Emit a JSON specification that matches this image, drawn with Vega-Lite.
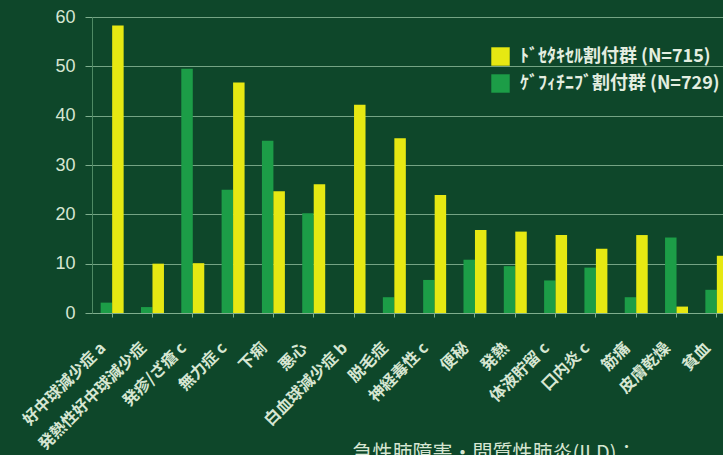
{
  "$schema": "https://vega.github.io/schema/vega-lite/v6.json",
  "width": 631,
  "height": 296,
  "autosize": {"type": "none"},
  "padding": {"left": 92, "top": 17, "right": 0, "bottom": 142},
  "background": "#0e472a",
  "config": {
    "view": {"stroke": null},
    "font": "Noto Sans CJK JP"
  },
  "data": {
    "values": [
      {"cat": "好中球減少症 a", "group": "ｹﾞﾌｨﾁﾆﾌﾞ割付群 (N=729)", "pct": 2.1},
      {"cat": "好中球減少症 a", "group": "ﾄﾞｾﾀｷｾﾙ割付群 (N=715)", "pct": 58.3},
      {"cat": "発熱性好中球減少症", "group": "ｹﾞﾌｨﾁﾆﾌﾞ割付群 (N=729)", "pct": 1.2},
      {"cat": "発熱性好中球減少症", "group": "ﾄﾞｾﾀｷｾﾙ割付群 (N=715)", "pct": 10.0},
      {"cat": "発疹/ざ瘡 c", "group": "ｹﾞﾌｨﾁﾆﾌﾞ割付群 (N=729)", "pct": 49.5},
      {"cat": "発疹/ざ瘡 c", "group": "ﾄﾞｾﾀｷｾﾙ割付群 (N=715)", "pct": 10.1},
      {"cat": "無力症 c", "group": "ｹﾞﾌｨﾁﾆﾌﾞ割付群 (N=729)", "pct": 25.0},
      {"cat": "無力症 c", "group": "ﾄﾞｾﾀｷｾﾙ割付群 (N=715)", "pct": 46.7},
      {"cat": "下痢", "group": "ｹﾞﾌｨﾁﾆﾌﾞ割付群 (N=729)", "pct": 34.9},
      {"cat": "下痢", "group": "ﾄﾞｾﾀｷｾﾙ割付群 (N=715)", "pct": 24.7},
      {"cat": "悪心", "group": "ｹﾞﾌｨﾁﾆﾌﾞ割付群 (N=729)", "pct": 20.2},
      {"cat": "悪心", "group": "ﾄﾞｾﾀｷｾﾙ割付群 (N=715)", "pct": 26.1},
      {"cat": "白血球減少症 b", "group": "ｹﾞﾌｨﾁﾆﾌﾞ割付群 (N=729)", "pct": 0},
      {"cat": "白血球減少症 b", "group": "ﾄﾞｾﾀｷｾﾙ割付群 (N=715)", "pct": 42.2},
      {"cat": "脱毛症", "group": "ｹﾞﾌｨﾁﾆﾌﾞ割付群 (N=729)", "pct": 3.2},
      {"cat": "脱毛症", "group": "ﾄﾞｾﾀｷｾﾙ割付群 (N=715)", "pct": 35.4},
      {"cat": "神経毒性 c", "group": "ｹﾞﾌｨﾁﾆﾌﾞ割付群 (N=729)", "pct": 6.7},
      {"cat": "神経毒性 c", "group": "ﾄﾞｾﾀｷｾﾙ割付群 (N=715)", "pct": 23.9},
      {"cat": "便秘", "group": "ｹﾞﾌｨﾁﾆﾌﾞ割付群 (N=729)", "pct": 10.8},
      {"cat": "便秘", "group": "ﾄﾞｾﾀｷｾﾙ割付群 (N=715)", "pct": 16.8},
      {"cat": "発熱", "group": "ｹﾞﾌｨﾁﾆﾌﾞ割付群 (N=729)", "pct": 9.5},
      {"cat": "発熱", "group": "ﾄﾞｾﾀｷｾﾙ割付群 (N=715)", "pct": 16.5},
      {"cat": "体液貯留 c", "group": "ｹﾞﾌｨﾁﾆﾌﾞ割付群 (N=729)", "pct": 6.6},
      {"cat": "体液貯留 c", "group": "ﾄﾞｾﾀｷｾﾙ割付群 (N=715)", "pct": 15.8},
      {"cat": "口内炎 c", "group": "ｹﾞﾌｨﾁﾆﾌﾞ割付群 (N=729)", "pct": 9.2},
      {"cat": "口内炎 c", "group": "ﾄﾞｾﾀｷｾﾙ割付群 (N=715)", "pct": 13.0},
      {"cat": "筋痛", "group": "ｹﾞﾌｨﾁﾆﾌﾞ割付群 (N=729)", "pct": 3.2},
      {"cat": "筋痛", "group": "ﾄﾞｾﾀｷｾﾙ割付群 (N=715)", "pct": 15.8},
      {"cat": "皮膚乾燥", "group": "ｹﾞﾌｨﾁﾆﾌﾞ割付群 (N=729)", "pct": 15.3},
      {"cat": "皮膚乾燥", "group": "ﾄﾞｾﾀｷｾﾙ割付群 (N=715)", "pct": 1.3},
      {"cat": "貧血", "group": "ｹﾞﾌｨﾁﾆﾌﾞ割付群 (N=729)", "pct": 4.7},
      {"cat": "貧血", "group": "ﾄﾞｾﾀｷｾﾙ割付群 (N=715)", "pct": 11.6}
    ]
  },
  "mark": {"type": "bar"},
  "encoding": {
    "x": {
      "field": "cat",
      "type": "nominal",
      "sort": null,
      "scale": {"paddingInner": 0.43, "paddingOuter": 0.215, "rangeMax": 645},
      "axis": {
        "title": "急性肺障害・間質性肺炎(ILD)：",
        "titleFont": "Noto Sans CJK JP",
        "titleFontSize": 20,
        "titleFontWeight": "normal",
        "titleColor": "#d6e6d2",
        "titleAnchor": "start",
        "titleAlign": "left",
        "titleBaseline": "alphabetic",
        "titleX": 260,
        "titleY": 146,
        "labelAngle": -45,
        "labelAlign": "right",
        "labelBaseline": "middle",
        "labelFont": "Noto Sans CJK JP",
        "labelFontSize": 16,
        "labelFontWeight": "bold",
        "labelColor": "#d6e6d2",
        "labelPadding": 28,
        "labelOffset": -9,
        "labelOverlap": false,
        "labelLimit": 300,
        "domainColor": "#7fae8e",
        "domainWidth": 1,
        "tickColor": "#7fae8e",
        "tickSize": 4,
        "ticks": true,
        "grid": false
      }
    },
    "xOffset": {
      "field": "group",
      "type": "nominal",
      "sort": ["ｹﾞﾌｨﾁﾆﾌﾞ割付群 (N=729)", "ﾄﾞｾﾀｷｾﾙ割付群 (N=715)"]
    },
    "y": {
      "field": "pct",
      "type": "quantitative",
      "scale": {"domain": [0, 60], "nice": false},
      "axis": {
        "title": null,
        "values": [0, 10, 20, 30, 40, 50, 60],
        "labelFont": "Liberation Sans",
        "labelFontSize": 18,
        "labelColor": "#d6e6d2",
        "labelPadding": 10,
        "tickSize": 7,
        "tickColor": "#7fae8e",
        "domainColor": "#4f8a64",
        "grid": true,
        "gridColor": "#7fae8e",
        "gridWidth": 1.2,
        "gridOpacity": 0.9
      }
    },
    "color": {
      "field": "group",
      "type": "nominal",
      "scale": {
        "domain": ["ﾄﾞｾﾀｷｾﾙ割付群 (N=715)", "ｹﾞﾌｨﾁﾆﾌﾞ割付群 (N=729)"],
        "range": ["#e6e812", "#1c9d47"]
      },
      "legend": {
        "title": null,
        "orient": "none",
        "legendX": 399,
        "legendY": 30,
        "symbolType": "square",
        "symbolSize": 340,
        "symbolStrokeWidth": 0,
        "symbolOpacity": 1,
        "labelFont": "Noto Sans CJK JP",
        "labelFontSize": 18,
        "labelFontWeight": "bold",
        "labelColor": "#e4eee0",
        "labelLimit": 300,
        "rowPadding": 8,
        "labelOffset": 10
      }
    }
  }
}
